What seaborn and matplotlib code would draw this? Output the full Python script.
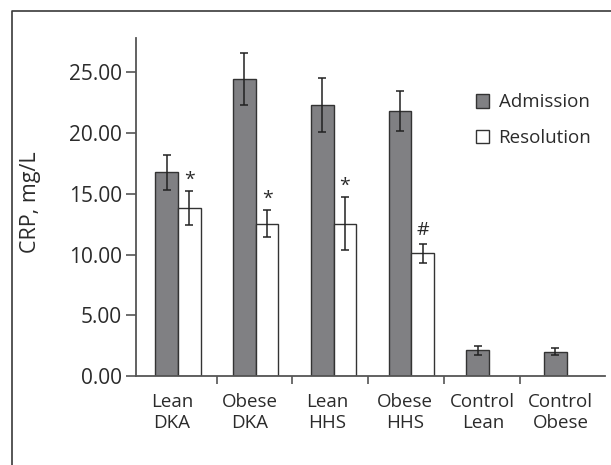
import numpy as np
import pandas as pd
import matplotlib
matplotlib.use("Agg")
import matplotlib.pyplot as plt
import seaborn as sns
from matplotlib.lines import Line2D

# ---------- Data ----------
groups = ["Lean\nDKA", "Obese\nDKA", "Lean\nHHS", "Obese\nHHS", "Control\nLean", "Control\nObese"]
admission = [16.77, 24.43, 22.33, 21.81, 2.13, 2.02]
admission_err = [1.41, 2.14, 2.20, 1.67, 0.37, 0.27]
resolution = [13.87, 12.56, 12.56, 10.10, np.nan, np.nan]
resolution_err = [1.40, 1.12, 2.15, 0.78, np.nan, np.nan]
marks = ["*", "*", "*", "#", "", ""]
yticks = [0, 5, 10, 15, 20, 25]

df = pd.DataFrame({
    "group": groups * 2,
    "phase": ["Admission"] * 6 + ["Resolution"] * 6,
    "crp": admission + resolution,
    "err": admission_err + resolution_err,
    "mark": [""] * 6 + marks,
})

# ---------- Style ----------
sns.set_style("ticks")
plt.rcParams["font.family"] = ["Open Sans", "DejaVu Sans"]
text_col = "#2b2b2b"
spine_col = "#555555"
fs = 13.5

fig = plt.figure(figsize=(6.11, 4.65), dpi=100)
ax = fig.add_axes([0.2219, 0.1908, 0.768, 0.7268])

sns.barplot(
    data=df, x="group", y="crp", hue="phase",
    palette={"Admission": "#7f8084", "Resolution": "white"},
    width=0.58, gap=0, errorbar=None,
    edgecolor="#333333", linewidth=1.0, ax=ax,
)

# error bars + significance marks, placed on the drawn bars
for cont, phase in zip(ax.containers, ["Admission", "Resolution"]):
    sub = df[df["phase"] == phase]
    if len(cont) != len(sub):
        sub = sub.dropna(subset=["crp"])
    for bar, (_, row) in zip(cont, sub.iterrows()):
        if np.isnan(row["crp"]):
            continue
        xc = bar.get_x() + bar.get_width() / 2
        ax.errorbar(xc, row["crp"], yerr=row["err"], fmt="none",
                    ecolor="#222222", elinewidth=1.1, capsize=3.2, capthick=1.1)
        if row["mark"]:
            off = 4.5 if row["mark"] == "*" else 6.5
            ax.annotate(row["mark"], (xc, row["crp"] + row["err"]),
                        xytext=(0, off), textcoords="offset points",
                        ha="center", va="baseline", fontsize=fs + 0.5,
                        color=text_col)

# ---------- Axes ----------
ax.set_xlim(-0.546, 5.49)
ax.set_ylim(0, 27.8)
ax.set_yticks(yticks)
ax.set_yticklabels([f"{v:.2f}" for v in yticks])
ax.tick_params(axis="y", length=7, width=1.2, color=spine_col, pad=3,
               labelsize=15, labelcolor=text_col)

ax.set_xticks([0.5, 1.47, 2.45, 3.42, 4.4])
ax.set_xticklabels([])
ax.set_xticks(np.arange(len(groups)) - 0.08, minor=True)
ax.set_xticklabels(groups, minor=True, fontsize=fs, color=text_col,
                   linespacing=1.25)
ax.tick_params(axis="x", which="major", length=6, width=1.2, color=spine_col)
ax.tick_params(axis="x", which="minor", length=0, pad=12)

ax.set_xlabel("")
ax.set_ylabel("CRP, mg/L", fontsize=15.5, color=text_col)
ax.yaxis.set_label_coords(-0.2026, 0.516)

for side in ["top", "right"]:
    ax.spines[side].set_visible(False)
for side in ["left", "bottom"]:
    ax.spines[side].set_color(spine_col)
    ax.spines[side].set_linewidth(1.3)

handles, labels = ax.get_legend_handles_labels()
ax.legend(handles, labels, loc="upper left",
          bbox_to_anchor=(0.7786, 0.799), bbox_transform=fig.transFigure,
          frameon=False, fontsize=fs, handlelength=0.72, handleheight=0.72,
          handletextpad=0.5, labelspacing=0.95, borderpad=0, borderaxespad=0,
          labelcolor=text_col)

# outer frame (top and left edges visible)
fig.add_artist(Line2D([0.0191, 0.0191, 1.0], [0.0, 0.9763, 0.9763],
                      transform=fig.transFigure, color="#3a3a3a", lw=1.2))

fig.savefig("out.png", dpi=100)
